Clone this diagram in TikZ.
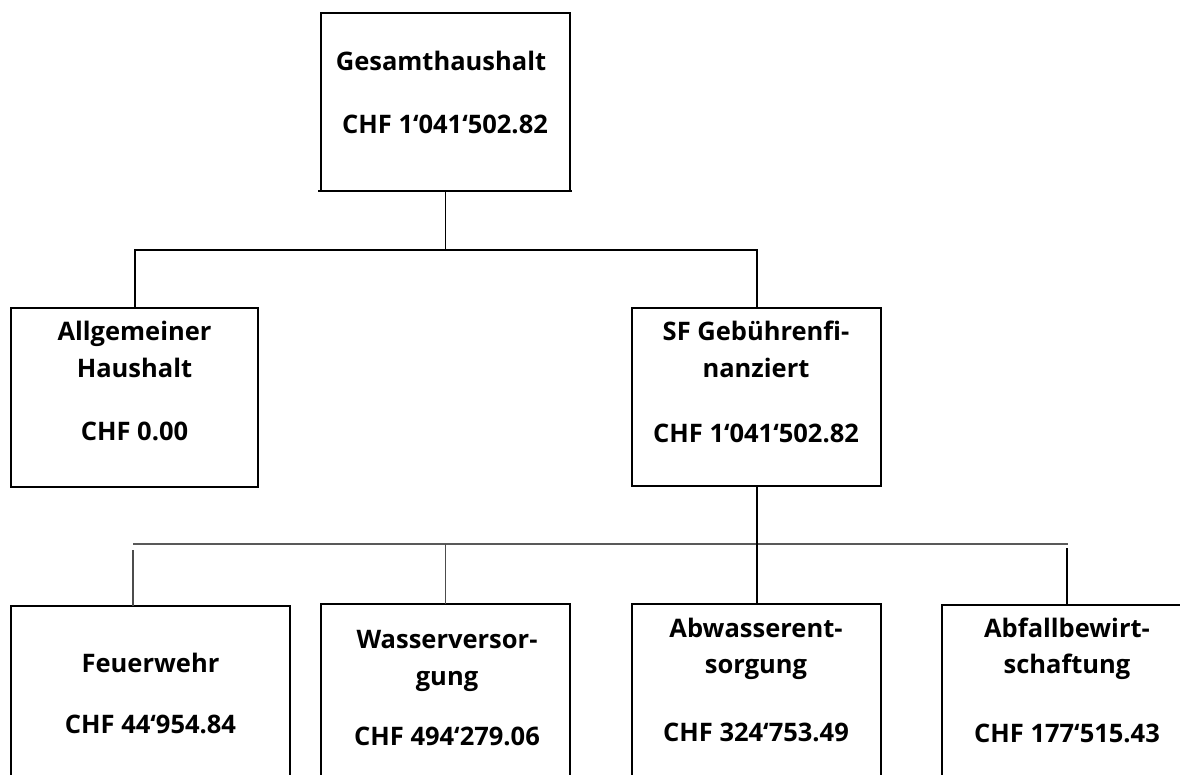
\documentclass[tikz,border=0pt]{standalone}
\usepackage{fontspec}
\setmainfont{Open Sans}
\begin{document}
\begin{tikzpicture}[x=1pt,y=-1pt,
  box/.style={draw=black,line width=1.6pt,inner sep=0pt,outer sep=0pt},
  lbl/.style={anchor=base,inner sep=0pt,font=\bfseries\fontsize{25.5}{30}\selectfont},
  thickline/.style={draw=black,line width=2pt},
  thinline/.style={draw=black,line width=1pt},
  busline/.style={draw=black!65,line width=1.5pt},
  grayline/.style={draw=black!70,line width=1.1pt}]
\useasboundingbox (0,0) rectangle (1180,774);
\clip (0,0) rectangle (1180,774);
\fill[white] (0,0) rectangle (1180,774);

% boxes
\node[box,minimum width=249pt,minimum height=178pt] (gesamt) at (445.5,102) {};
\node[box,minimum width=247pt,minimum height=179pt] (allg) at (134.5,397.5) {};
\node[box,minimum width=249pt,minimum height=178pt] (sf) at (756.5,397) {};
\node[box,minimum width=279pt,minimum height=220pt] (feuer) at (150.5,716) {};
\node[box,minimum width=249pt,minimum height=220pt] (wasser) at (445.5,714) {};
\node[box,minimum width=249pt,minimum height=220pt] (abwasser) at (756.5,714) {};
\node[box,minimum width=250pt,minimum height=220pt] (abfall) at (1067,715) {};
\draw[line width=1.6pt] ([xshift=-3pt]gesamt.south west) -- ([xshift=2pt]gesamt.south east);

% texts
\node[lbl] (g1) at (441,70) {Gesamthaushalt};
\node[lbl] (g2) at (445,133) {CHF 1‘041‘502.82};
\node[lbl] (a1) at (134.5,340) {Allgemeiner};
\node[lbl] (a2) at (134.5,377) {Haushalt};
\node[lbl] (a3) at (134.5,440) {CHF 0.00};
\node[lbl] (s1) at (756,340) {SF Gebührenfi-};
\node[lbl] (s2) at (756,377) {nanziert};
\node[lbl] (s3) at (756,442) {CHF 1‘041‘502.82};
\node[lbl] (f1) at (150.5,672) {Feuerwehr};
\node[lbl] (f2) at (150.5,733) {CHF 44‘954.84};
\node[lbl] (w1) at (447,648) {Wasserversor-};
\node[lbl] (w2) at (447,685) {gung};
\node[lbl] (w3) at (447,745) {CHF 494‘279.06};
\node[lbl] (b1) at (756,637) {Abwasserent-};
\node[lbl] (b2) at (756,673) {sorgung};
\node[lbl] (b3) at (756,741) {CHF 324‘753.49};
\node[lbl] (c1) at (1067,637) {Abfallbewirt-};
\node[lbl] (c2) at (1067,673) {schaftung};
\node[lbl] (c3) at (1067,742) {CHF 177‘515.43};

% connectors
\coordinate (bus1) at (445.5,250);
\draw[thinline] (gesamt.south) -- (bus1);
\draw[thickline] (allg.north) -- (allg.north |- bus1) -- (sf.north |- bus1) -- (sf.north);
\coordinate (busL) at (133,544);
\coordinate (busR) at (1068,544);
\draw[busline] (busL) -- (busR);
\draw[thickline] (sf.south) -- (abwasser.north);
\coordinate (fe) at (133,550);
\draw[grayline] (fe) -- (fe |- feuer.north);
\draw[grayline] (wasser.north) -- (wasser.north |- busL);
\coordinate (ab) at (1067,548);
\draw[thickline] (ab) -- (abfall.north);
\end{tikzpicture}
\end{document}
